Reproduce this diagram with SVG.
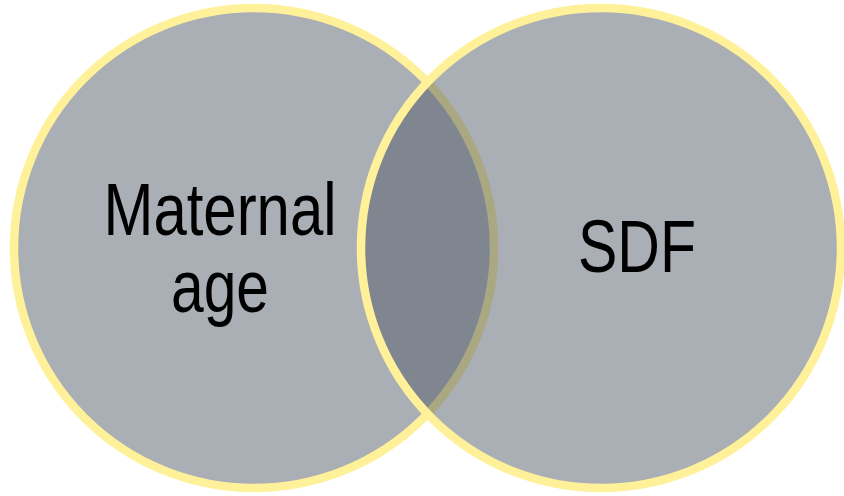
<svg xmlns="http://www.w3.org/2000/svg" width="844" height="496" viewBox="0 0 844 496">
  <style>
    .set { fill: #555d6b; fill-opacity: 0.5; stroke: #fff19a; stroke-width: 8.5; }
    .lbl { font-family: "Liberation Sans", Arial, sans-serif; font-size: 74px; fill: #000; text-anchor: middle; }
  </style>
  <rect width="844" height="496" fill="#ffffff"/>
  <g id="maternal-age">
    <circle class="set" cx="254" cy="248" r="240"/>
    <text class="lbl" x="220" y="235" textLength="233" lengthAdjust="spacingAndGlyphs">Maternal</text>
    <text class="lbl" x="220" y="312" textLength="98" lengthAdjust="spacingAndGlyphs">age</text>
  </g>
  <g id="sdf">
    <circle class="set" cx="601" cy="248" r="240"/>
    <text class="lbl" x="637" y="272" textLength="118" lengthAdjust="spacingAndGlyphs">SDF</text>
  </g>
  <g id="connectors"/>
</svg>
